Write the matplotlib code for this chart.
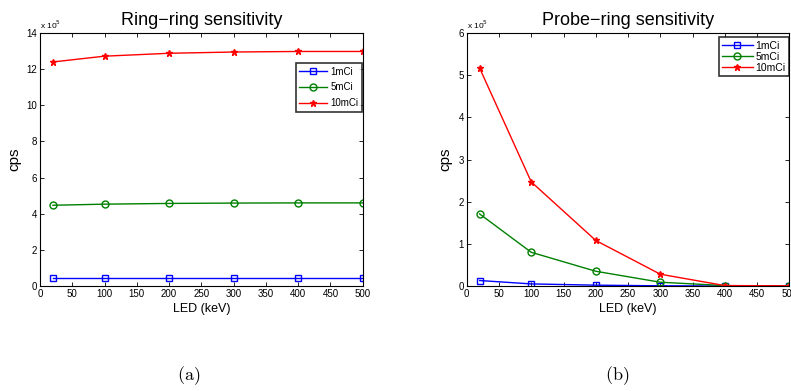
import matplotlib
matplotlib.use('Agg')
import matplotlib.pyplot as plt
from matplotlib.ticker import FuncFormatter

plt.rcParams['font.family'] = 'Liberation Sans'
plt.rcParams['mathtext.fontset'] = 'cm'

# LED thresholds (keV)
led = [20, 100, 200, 300, 400, 500]
labels = ['1mCi', '5mCi', '10mCi']

# ring-ring sensitivity (cps)
ring_1 = [0.47e5, 0.47e5, 0.47e5, 0.47e5, 0.47e5, 0.47e5]
ring_5 = [4.47e5, 4.53e5, 4.57e5, 4.59e5, 4.60e5, 4.60e5]
ring_10 = [12.40e5, 12.72e5, 12.88e5, 12.95e5, 12.98e5, 12.98e5]

# probe-ring sensitivity (cps)
probe_1 = [0.13e5, 0.05e5, 0.02e5, 0.005e5, 0.0, 0.0]
probe_5 = [1.71e5, 0.80e5, 0.35e5, 0.09e5, 0.01e5, 0.0]
probe_10 = [5.17e5, 2.47e5, 1.08e5, 0.28e5, 0.01e5, 0.005e5]

colors = ['#0000ff', '#008000', '#ff0000']
markers = ['s', 'o', '*']

fig = plt.figure(figsize=(7.91, 3.91), dpi=100)
ax1 = fig.add_axes([0.0506, 0.2685, 0.408, 0.647])
ax2 = fig.add_axes([0.590, 0.2685, 0.408, 0.647])


def draw(ax, series, title, ymax, ystep, legend_anchor, spacing, lsize):
    for k, ys in enumerate(series):
        ax.plot(led, ys, color=colors[k], marker=markers[k], markersize=5,
                markerfacecolor='none' if markers[k] != '*' else colors[k],
                markeredgecolor=colors[k], linewidth=1, label=labels[k])
    ax.set_xlim(0, 500)
    ax.set_ylim(0, ymax)
    ax.set_xticks(range(0, 501, 50))
    ax.set_yticks([v * 1e5 for v in range(0, int(ymax / 1e5) + 1, ystep)])
    ax.yaxis.set_major_formatter(FuncFormatter(lambda v, p: '%g' % (v / 1e5)))
    ax.tick_params(direction='in', top=True, right=True, labelsize=7,
                   length=3, width=0.6, pad=2)
    for s in ax.spines.values():
        s.set_linewidth(0.8)
    ax.set_title(title, fontsize=13, pad=6)
    ax.set_xlabel('LED (keV)', fontsize=9, labelpad=3)
    ax.set_ylabel('cps', fontsize=11, labelpad=4)
    ax.text(0.0, 1.01, r'x 10$^{5}$', transform=ax.transAxes, fontsize=6,
            ha='left', va='bottom', family='Liberation Sans',
            math_fontfamily='dejavusans')
    leg = ax.legend(loc='upper right', bbox_to_anchor=legend_anchor,
                    borderaxespad=0, fontsize=lsize, frameon=True,
                    fancybox=False, edgecolor='black', handlelength=2.9,
                    borderpad=0.35, labelspacing=spacing, handletextpad=0.3)
    leg.get_frame().set_linewidth(1.2)


draw(ax1, [ring_1, ring_5, ring_10], 'Ring\u2212ring sensitivity', 14e5, 2,
     (0.997, 0.881), 0.6, 7)
draw(ax2, [probe_1, probe_5, probe_10], 'Probe\u2212ring sensitivity', 6e5, 1,
     (1.0, 0.984), 0.1, 7.5)

fig.text(0.239, 0.027, r'$\mathrm{(a)}$', fontsize=13, ha='center')
fig.text(0.780, 0.027, r'$\mathrm{(b)}$', fontsize=13, ha='center')

fig.savefig('out.png', dpi=100)
